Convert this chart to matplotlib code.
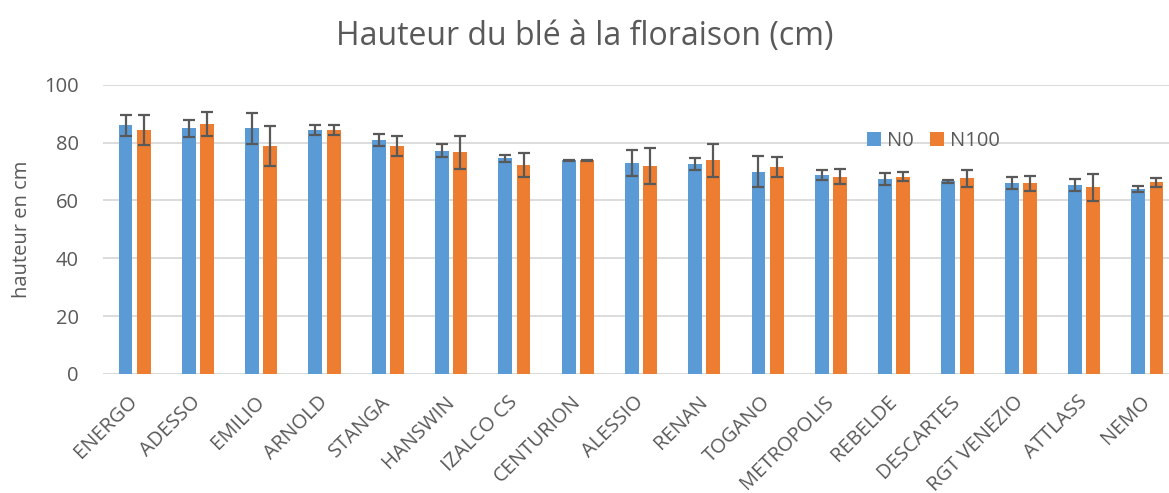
import matplotlib.pyplot as plt
import numpy as np

# varietes de ble
varietes = ["ENERGO", "ADESSO", "EMILIO", "ARNOLD", "STANGA", "HANSWIN", "IZALCO CS",
            "CENTURION", "ALESSIO", "RENAN", "TOGANO", "METROPOLIS", "REBELDE",
            "DESCARTES", "RGT VENEZIO", "ATTLASS", "NEMO"]

# hauteur moyenne (cm)
n0 = [85.9, 84.9, 84.9, 84.3, 80.9, 77.2, 74.5, 73.9, 72.9, 72.6, 69.9, 68.8, 67.4,
      66.6, 66.0, 65.3, 64.0]
n100 = [84.3, 86.4, 78.8, 84.3, 78.8, 76.6, 72.2, 73.9, 71.9, 73.9, 71.5, 68.2, 68.2,
        67.6, 66.0, 64.6, 66.2]

# ecarts types
err_n0 = [3.5, 3.0, 5.3, 1.6, 2.0, 2.2, 1.2, 0.2, 4.5, 2.1, 5.3, 1.8, 2.1, 0.6, 2.1, 2.2, 1.1]
err_n100 = [5.1, 4.0, 7.0, 1.6, 3.5, 5.7, 4.2, 0.2, 6.1, 5.7, 3.5, 2.5, 1.6, 3.0, 2.6, 4.7, 1.7]

GRIS = "#595959"
plt.rcParams['font.family'] = ['Open Sans', 'DejaVu Sans']

fig = plt.figure(figsize=(11.69, 4.93), dpi=100)
ax = fig.add_axes([103 / 1169, 0.2414, 1076 / 1169, 0.5868])

x = np.arange(len(varietes))
w = 0.22
err_style = dict(ecolor=GRIS, elinewidth=1.6, capsize=4.5, capthick=1.6)
ax.bar(x - 0.144, n0, w, color="#5B9BD5", label="N0", yerr=err_n0,
       error_kw=err_style, zorder=3)
ax.bar(x + 0.144, n100, w, color="#ED7D31", label="N100", yerr=err_n100,
       error_kw=err_style, zorder=3)

ax.set_xlim(-0.5, len(varietes) - 0.5)
ax.set_ylim(0, 100)
ax.set_yticks(range(0, 101, 20))
ax.grid(axis="y", color="#D9D9D9", linewidth=1.3, zorder=0)
for s in ax.spines.values():
    s.set_visible(False)
ax.axhline(0, color="#D9D9D9", linewidth=1.3, zorder=1)

# etiquettes inclinees, coupees en bas comme dans l'original
ax.set_xticks(x)
ax.set_xticklabels(varietes, rotation=45, ha="right", va="center",
                   rotation_mode="anchor")
ax.tick_params(axis="x", length=0, pad=18, labelsize=14.5, labelcolor=GRIS)
ax.tick_params(axis="y", length=0, pad=17.5, labelsize=14.5, labelcolor=GRIS)

ax.set_ylabel("hauteur en cm", fontsize=14.5, color=GRIS, labelpad=9)

fig.suptitle("Hauteur du blé à la floraison (cm)", fontsize=23, color=GRIS,
             x=0.5, y=0.96)

ax.legend(loc="center", bbox_to_anchor=(0.772, 0.806), ncol=2, frameon=False,
          fontsize=14.5, labelcolor=GRIS, handlelength=0.7, handleheight=0.7,
          handletextpad=0.3, columnspacing=0.8)

fig.savefig("out.png", dpi=100)
